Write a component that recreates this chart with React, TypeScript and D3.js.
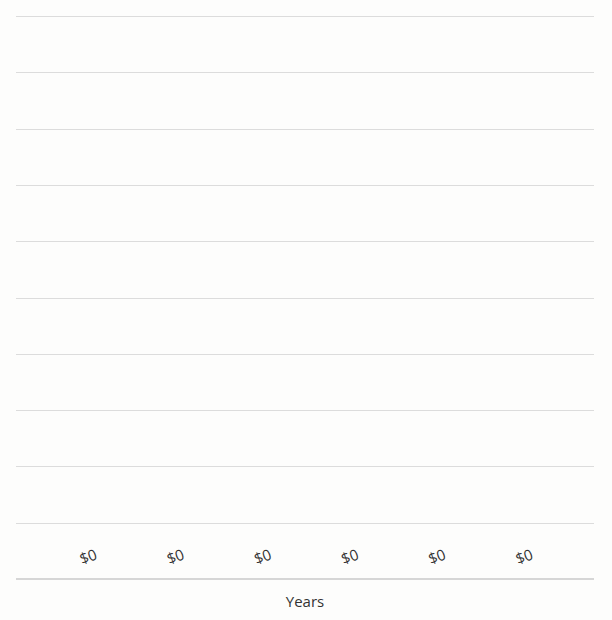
import { useEffect, useRef } from 'react';
import * as d3 from 'd3';

const years = ['Year 1', 'Year 2', 'Year 3', 'Year 4', 'Year 5', 'Year 6'];
const savings = [0, 0, 0, 0, 0, 0];
const yTicks = [0, 1, 2, 3, 4, 5, 6, 7, 8, 9, 10];

export default function App() {
  const svgRef = useRef<SVGSVGElement>(null);

  useEffect(() => {
    if (!svgRef.current) return;
    const width = 612;
    const height = 620;
    const left = 16;
    const right = 594;
    const top = 16;
    const bottom = 579;

    const svg = d3.select(svgRef.current);
    svg.selectAll('*').remove();
    svg.attr('width', width).attr('height', height);

    svg.append('rect')
      .attr('width', width)
      .attr('height', height)
      .attr('fill', '#fdfdfc');

    const x = d3.scalePoint<string>()
      .domain(years)
      .range([left, right])
      .padding(0.815);

    const y = d3.scaleLinear()
      .domain([0, 10])
      .range([bottom, top]);

    // grid
    svg.append('g')
      .selectAll('line')
      .data(yTicks.filter((t) => t > 0))
      .join('line')
      .attr('x1', left)
      .attr('x2', right)
      .attr('y1', (d) => Math.round(y(d)) + 0.5)
      .attr('y2', (d) => Math.round(y(d)) + 0.5)
      .attr('stroke', '#dcdcdc')
      .attr('stroke-width', 1);

    // bars (zero height)
    svg.append('g')
      .selectAll('rect')
      .data(savings)
      .join('rect')
      .attr('x', (_, i) => x(years[i])! - 35)
      .attr('width', 70)
      .attr('y', (d) => y(d))
      .attr('height', (d) => y(0) - y(d))
      .attr('fill', '#4a90d9');

    // baseline
    svg.append('line')
      .attr('x1', left)
      .attr('x2', right)
      .attr('y1', y(0))
      .attr('y2', y(0))
      .attr('stroke', '#d6d6d6')
      .attr('stroke-width', 2);

    // value labels
    svg.append('g')
      .selectAll('text')
      .data(savings)
      .join('text')
      .attr('transform', (d, i) => `translate(${x(years[i])! + 1},${y(d) - 23}) rotate(-20)`)
      .attr('text-anchor', 'middle')
      .attr('dominant-baseline', 'central')
      .attr('font-family', '"Open Sans", sans-serif')
      .attr('font-size', '15px')
      .attr('fill', '#333')
      .text((d) => `$${d}`);

    svg.append('text')
      .attr('x', (left + right) / 2)
      .attr('y', 607)
      .attr('text-anchor', 'middle')
      .attr('font-family', '"Open Sans", sans-serif')
      .attr('font-size', '15px')
      .attr('fill', '#333')
      .text('Years');
  }, []);

  return (
    <div style={{ position: 'absolute', top: 0, left: 0 }}>
      <svg ref={svgRef} style={{ display: 'block' }} />
    </div>
  );
}
